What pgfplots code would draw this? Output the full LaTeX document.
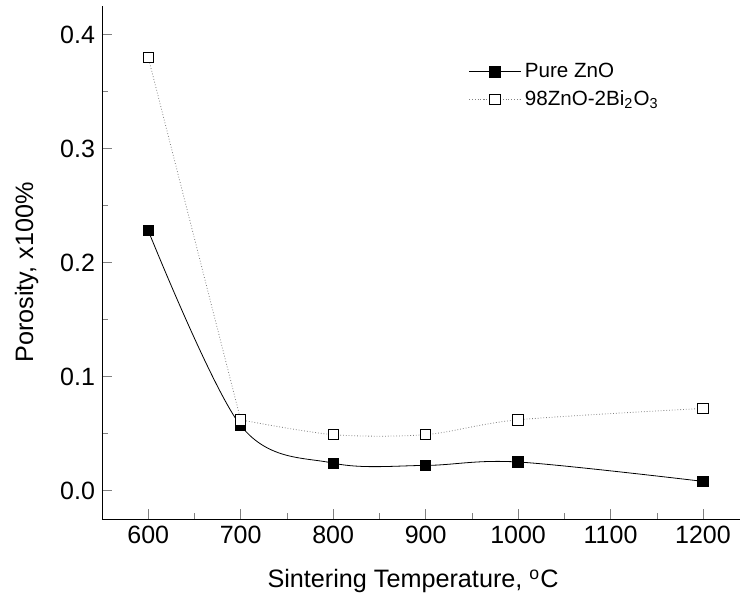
\documentclass[border=0pt]{standalone}
\usepackage{fontspec}
\setmainfont{Liberation Sans}
\usepackage{pgfplots}
\pgfplotsset{compat=1.18}
\begin{document}
\begin{tikzpicture}
\useasboundingbox (-51pt,-40pt) rectangle (319pt,259.5pt);
\begin{axis}[
  scale only axis,
  width=319pt, height=256.5pt,
  xmin=550, xmax=1240,
  ymin=-0.025, ymax=0.425,
  axis lines*=left,
  tick align=inside,
  xtick={600,700,...,1200},
  ytick={0,0.1,0.2,0.3,0.4},
  minor x tick num=1,
  minor y tick num=1,
  major tick length=5pt,
  minor tick length=3pt,
  yticklabel style={/pgf/number format/fixed,/pgf/number format/fixed zerofill,/pgf/number format/precision=1},
  /pgf/number format/assume math mode=true,
  ticklabel style={font=\fontsize{12.5}{14}\selectfont},
  xticklabel style={/pgf/number format/1000 sep={}},
  label style={font=\fontsize{12.6}{15}\selectfont},
  xlabel={Sintering Temperature, \textsuperscript{o}C},
  ylabel={Porosity, x100\%},
  xlabel style={yshift=-6pt, xshift=-4pt},
  ylabel style={yshift=4pt, xshift=-5pt},
  legend style={draw=none, fill=none, at={(0.565,0.905)}, anchor=north west,
    font=\fontsize{10.3}{12}\selectfont, row sep=1pt},
  legend cell align=left,
  legend image code/.code={
    \draw[#1, mark repeat=2, mark phase=2] plot coordinates {(0cm,0cm) (0.45cm,0cm) (0.9cm,0cm)};
  },
]
\addplot[black, thin, smooth, tension=0.55, mark=square*, mark size=2.6pt, mark options={solid, fill=black}]
  coordinates {(600,0.228) (700,0.057) (800,0.024) (900,0.022) (1000,0.025) (1200,0.008)};
\addlegendentry{Pure ZnO}
\addplot[gray, densely dotted, thin, forget plot, mark=square*, mark size=2.6pt, mark options={solid, draw=black, fill=white}]
  coordinates {(600,0.380) (700,0.062)};
\addplot[gray, densely dotted, thin, smooth, tension=0.5, mark=square*, mark size=2.6pt, mark options={solid, draw=black, fill=white}]
  coordinates {(700,0.062) (800,0.049) (900,0.049) (1000,0.062) (1200,0.072)};
\addlegendentry{98ZnO-2Bi\textsubscript{2}O\textsubscript{3}}
\end{axis}
\end{tikzpicture}
\end{document}
